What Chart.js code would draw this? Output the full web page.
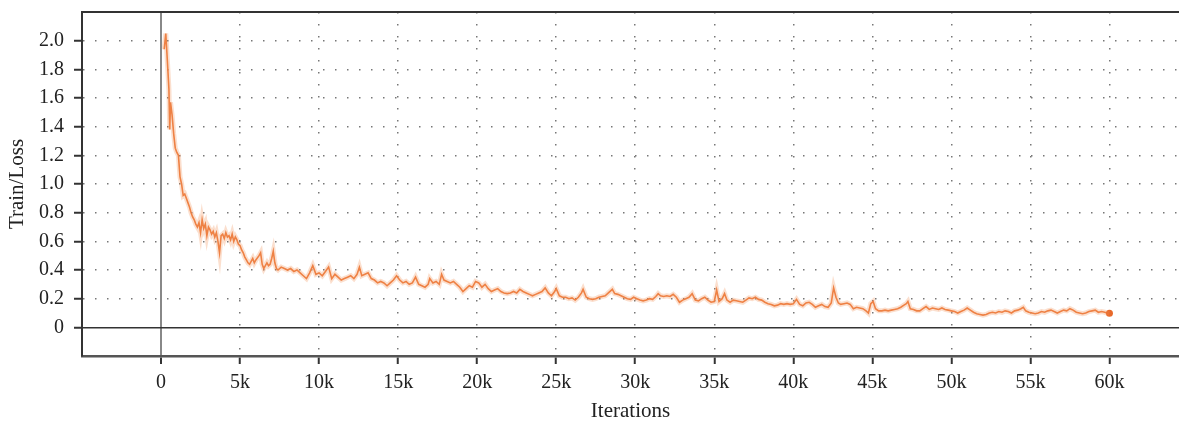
<!DOCTYPE html>
<html>
<head>
<meta charset="utf-8">
<script src="https://cdn.jsdelivr.net/npm/chart.js@4.4.0/dist/chart.umd.min.js"></script>
<style>
    html, body { margin: 0; padding: 0; background: #fff; }
    #wrap { width: 1179px; height: 421px; }
</style>
</head>
<body>
<div id="wrap"><canvas id="lossChart" width="1179" height="421"></canvas></div>
<script>
// Values
const iterations = [
    200, 300, 400, 500, 550, 600, 700, 800, 900, 1000,
    1100, 1200, 1300, 1400, 1500, 1600, 1700, 1800, 1900, 2000,
    2100, 2200, 2300, 2400, 2500, 2600, 2700, 2800, 2900, 3000,
    3100, 3200, 3300, 3400, 3500, 3600, 3700, 3800, 3900, 4000,
    4100, 4200, 4300, 4400, 4500, 4600, 4700, 4800, 4900, 5000,
    5100, 5200, 5300, 5400, 5500, 5600, 5700, 5800, 5900, 6000,
    6200, 6300, 6400, 6500, 6600, 6700, 6800, 6900, 7000, 7100,
    7200, 7300, 7400, 7600, 7800, 8000, 8200, 8400, 8600, 8800,
    9000, 9200, 9400, 9600, 9800, 10000, 10200, 10400, 10600, 10800,
    11000, 11200, 11400, 11600, 11800, 12000, 12200, 12400, 12550, 12700,
    12900, 13100, 13300, 13500, 13700, 13900, 14100, 14300, 14500, 14700,
    14900, 15100, 15300, 15500, 15700, 15900, 16100, 16300, 16500, 16700,
    16900, 17000, 17200, 17400, 17600, 17750, 17900, 18100, 18300, 18500,
    18700, 18900, 19100, 19300, 19500, 19700, 19900, 20100, 20300, 20500,
    20700, 20900, 21100, 21300, 21500, 21700, 21900, 22100, 22300, 22500,
    22700, 22900, 23100, 23300, 23500, 23700, 23900, 24100, 24300, 24500,
    24700, 24900, 25000, 25200, 25400, 25600, 25800, 26000, 26200, 26400,
    26600, 26700, 26900, 27100, 27300, 27500, 27700, 27900, 28100, 28300,
    28550, 28700, 28900, 29100, 29300, 29500, 29700, 29900, 30100, 30300,
    30500, 30700, 30900, 31100, 31300, 31450, 31600, 31800, 32000, 32200,
    32400, 32600, 32800, 33000, 33200, 33400, 33600, 33800, 34000, 34200,
    34400, 34600, 34800, 35000, 35150, 35300, 35500, 35650, 35800, 36000,
    36200, 36400, 36600, 36800, 37000, 37200, 37400, 37600, 37800, 38000,
    38200, 38400, 38600, 38800, 39000, 39200, 39400, 39600, 39800, 40000,
    40200, 40400, 40600, 40800, 41000, 41200, 41400, 41600, 41800, 42000,
    42200, 42400, 42550, 42700, 42850, 43000, 43200, 43400, 43600, 43800,
    44000, 44200, 44400, 44600, 44750, 44900, 45050, 45200, 45400, 45600,
    45800, 46000, 46200, 46400, 46600, 46800, 47000, 47150, 47250, 47400,
    47600, 47800, 48000, 48200, 48400, 48600, 48800, 49000, 49200, 49400,
    49600, 49800, 50000, 50200, 50400, 50600, 50800, 51000, 51200, 51400,
    51600, 51800, 52000, 52200, 52400, 52600, 52800, 53000, 53200, 53400,
    53600, 53800, 54000, 54200, 54400, 54550, 54700, 54900, 55100, 55300,
    55500, 55700, 55900, 56100, 56300, 56500, 56700, 56900, 57100, 57300,
    57500, 57700, 57900, 58100, 58300, 58500, 58700, 58900, 59100, 59300,
    59500, 59700, 59850, 60000
];

const trainLoss = [
    1.94, 2.05, 1.86, 1.66, 1.38, 1.57, 1.48, 1.35, 1.25, 1.22,
    1.20, 1.05, 1.00, 0.92, 0.93, 0.90, 0.87, 0.84, 0.80, 0.77,
    0.75, 0.72, 0.70, 0.73, 0.66, 0.75, 0.69, 0.72, 0.64, 0.70,
    0.68, 0.65, 0.67, 0.63, 0.66, 0.60, 0.52, 0.64, 0.65, 0.62,
    0.66, 0.63, 0.64, 0.61, 0.65, 0.60, 0.63, 0.61, 0.58, 0.57,
    0.54, 0.52, 0.49, 0.47, 0.45, 0.44, 0.46, 0.48, 0.45, 0.47,
    0.50, 0.52, 0.44, 0.41, 0.43, 0.45, 0.43, 0.44, 0.48, 0.53,
    0.45, 0.41, 0.40, 0.42, 0.41, 0.40, 0.41, 0.39, 0.40, 0.38,
    0.36, 0.34, 0.38, 0.43, 0.37, 0.38, 0.36, 0.39, 0.42, 0.34,
    0.37, 0.35, 0.33, 0.34, 0.35, 0.36, 0.34, 0.37, 0.42, 0.36,
    0.37, 0.38, 0.34, 0.33, 0.31, 0.32, 0.31, 0.29, 0.31, 0.33,
    0.36, 0.33, 0.31, 0.32, 0.30, 0.31, 0.35, 0.30, 0.29, 0.28,
    0.30, 0.34, 0.31, 0.32, 0.30, 0.37, 0.33, 0.32, 0.31, 0.32,
    0.30, 0.28, 0.25, 0.27, 0.29, 0.28, 0.32, 0.31, 0.28, 0.30,
    0.27, 0.25, 0.26, 0.27, 0.25, 0.24, 0.235, 0.24, 0.25, 0.24,
    0.265, 0.25, 0.24, 0.23, 0.22, 0.23, 0.24, 0.25, 0.275, 0.24,
    0.22, 0.25, 0.27, 0.22, 0.21, 0.21, 0.20, 0.205, 0.19, 0.21,
    0.24, 0.265, 0.21, 0.20, 0.195, 0.20, 0.21, 0.215, 0.22, 0.24,
    0.265, 0.235, 0.23, 0.22, 0.21, 0.20, 0.195, 0.21, 0.20, 0.19,
    0.185, 0.19, 0.20, 0.195, 0.215, 0.235, 0.22, 0.215, 0.22, 0.215,
    0.23, 0.21, 0.175, 0.19, 0.20, 0.21, 0.235, 0.19, 0.185, 0.20,
    0.21, 0.19, 0.175, 0.18, 0.26, 0.18, 0.20, 0.235, 0.19, 0.175,
    0.19, 0.185, 0.18, 0.175, 0.19, 0.205, 0.20, 0.21, 0.195, 0.19,
    0.175, 0.165, 0.16, 0.15, 0.155, 0.165, 0.16, 0.165, 0.16, 0.165,
    0.195, 0.16, 0.15, 0.17, 0.175, 0.16, 0.14, 0.15, 0.16, 0.145,
    0.14, 0.17, 0.275, 0.21, 0.17, 0.16, 0.165, 0.17, 0.16, 0.13,
    0.14, 0.135, 0.13, 0.115, 0.10, 0.165, 0.18, 0.13, 0.115, 0.115,
    0.12, 0.115, 0.12, 0.125, 0.13, 0.14, 0.155, 0.165, 0.18, 0.13,
    0.125, 0.115, 0.115, 0.13, 0.145, 0.125, 0.135, 0.13, 0.125, 0.135,
    0.125, 0.12, 0.115, 0.11, 0.10, 0.11, 0.12, 0.135, 0.12, 0.105,
    0.095, 0.09, 0.085, 0.09, 0.10, 0.105, 0.10, 0.11, 0.105, 0.115,
    0.11, 0.10, 0.115, 0.12, 0.13, 0.14, 0.115, 0.105, 0.10, 0.095,
    0.10, 0.11, 0.105, 0.115, 0.12, 0.11, 0.10, 0.11, 0.12, 0.115,
    0.13, 0.12, 0.105, 0.10, 0.095, 0.10, 0.11, 0.115, 0.12, 0.105,
    0.11, 0.105, 0.10, 0.098
];

const xTicks = [0, 5000, 10000, 15000, 20000, 25000, 30000, 35000, 40000, 45000, 50000, 55000, 60000];
const yTicks = [0, 0.2, 0.4, 0.6, 0.8, 1.0, 1.2, 1.4, 1.6, 1.8, 2.0];

const serif = "'Liberation Serif', 'DejaVu Serif', serif";
const points = iterations.map((it, i) => ({ x: it, y: trainLoss[i] }));

// top frame line of the plot area
const frameTop = {
    id: 'frameTop',
    afterDraw(chart) {
        const { ctx, chartArea } = chart;
        ctx.save();
        ctx.strokeStyle = '#333';
        ctx.lineWidth = 2;
        ctx.beginPath();
        ctx.moveTo(chartArea.left, chartArea.top);
        ctx.lineTo(chartArea.right, chartArea.top);
        ctx.stroke();
        ctx.restore();
    }
};

// no extra padding for edge labels, the frame fills the canvas
function noPad(scale) {
    scale.paddingTop = 0;
    scale.paddingBottom = 0;
    scale.paddingLeft = 0;
    scale.paddingRight = 0;
}

new Chart(document.getElementById('lossChart'), {
    type: 'line',
    data: {
        datasets: [{
            // soft halo under the line
            data: points,
            borderColor: 'rgba(240, 140, 80, 0.28)',
            borderWidth: 5,
            pointRadius: 0,
            tension: 0
        }, {
            data: points,
            borderColor: '#ee7d40',
            borderWidth: 1.6,
            pointRadius: points.map((p, i) => i === points.length - 1 ? 3.5 : 0),
            pointBackgroundColor: '#e8692a',
            pointBorderWidth: 0,
            tension: 0
        }]
    },
    options: {
        responsive: false,
        animation: false,
        layout: { autoPadding: false, padding: { top: 12, right: 0, left: 0, bottom: 0 } },
        plugins: {
            legend: { display: false },
            tooltip: { enabled: false }
        },
        scales: {
            x: {
                type: 'linear',
                min: -5000,
                max: 64400,
                afterBuildTicks: scale => { scale.ticks = xTicks.map(v => ({ value: v })); },
                afterFit: scale => { scale.height = 65; noPad(scale); },
                ticks: {
                    color: '#222',
                    padding: 7,
                    maxRotation: 0,
                    font: { family: serif, size: 20 },
                    callback: v => v === 0 ? '0' : (v / 1000) + 'k'
                },
                grid: {
                    color: c => c.tick && c.tick.value === 0 ? '#888' : '#777',
                    lineWidth: c => c.tick && c.tick.value === 0 ? 2 : 1.5,
                    tickLength: 8,
                    tickColor: '#333',
                    tickWidth: 2,
                    tickBorderDash: []
                },
                border: {
                    display: true,
                    color: '#555',
                    width: 2.5,
                    dash: c => c.tick && c.tick.value === 0 ? [] : [1.5, 10.5]
                },
                title: {
                    display: true,
                    text: 'Iterations',
                    color: '#222',
                    font: { family: serif, size: 21 },
                    padding: { top: 0, bottom: -3 }
                }
            },
            y: {
                type: 'linear',
                min: -0.2,
                max: 2.2,
                afterBuildTicks: scale => { scale.ticks = yTicks.map(v => ({ value: v })); },
                afterFit: scale => { scale.width = 82; noPad(scale); },
                ticks: {
                    color: '#222',
                    padding: 10,
                    font: { family: serif, size: 20 },
                    callback: v => v === 0 ? '0' : v.toFixed(1)
                },
                grid: {
                    color: c => c.tick && c.tick.value === 0 ? '#333' : '#777',
                    lineWidth: 1.5,
                    tickLength: 8,
                    tickColor: '#333',
                    tickWidth: 2,
                    tickBorderDash: []
                },
                border: {
                    display: true,
                    color: '#333',
                    width: 2,
                    dash: c => c.tick && c.tick.value === 0 ? [] : [1.5, 10.5]
                },
                title: {
                    display: true,
                    text: 'Train/Loss',
                    color: '#222',
                    font: { family: serif, size: 21 },
                    padding: { top: 5, bottom: 0 }
                }
            }
        }
    },
    plugins: [frameTop]
});
</script>
</body>
</html>
